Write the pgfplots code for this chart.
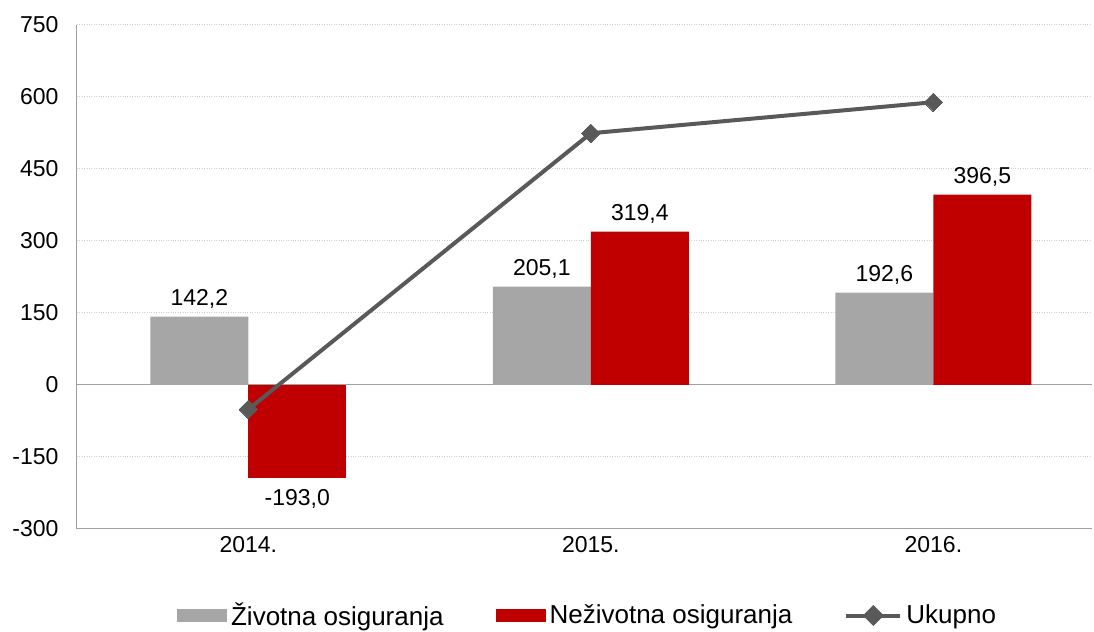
\documentclass[border=0pt]{standalone}
\usepackage{pgfplots}
\pgfplotsset{compat=1.18}
\usepackage{fontspec}
\setmainfont{Liberation Sans}
\definecolor{zgray}{HTML}{A6A6A6}
\definecolor{nred}{HTML}{C00000}
\definecolor{uline}{HTML}{595959}
\definecolor{gridc}{HTML}{D0D0D0}
\definecolor{axc}{HTML}{A0A0A0}
\begin{document}
\begin{tikzpicture}
\begin{axis}[
  at={(0,0)}, anchor=south west,
  scale only axis,
  width=1015pt, height=504pt,
  xmin=-0.5, xmax=2.463,
  ymin=-300, ymax=750,
  ytick={-300,-150,0,150,300,450,600,750},
  xtick={0,1,2},
  xticklabels={2014.,2015.,2016.},
  axis x line*=bottom,
  axis y line*=left,
  axis line style={draw=axc, line width=1pt},
  x axis line style={-}, y axis line style={-},
  major tick length=0pt,
  ymajorgrids,
  grid style={draw=gridc, dotted, line width=1pt},
  extra y ticks={0}, extra y tick labels={},
  extra y tick style={grid style={draw=axc, solid, line width=1pt}},
  tick label style={font=\fontsize{23}{27}\selectfont},
  /pgf/number format/assume math mode=true,
  yticklabel style={xshift=-15pt},
  xticklabel style={yshift=-4pt},
  nodes near coords={\pgfmathprintnumber[fixed, fixed zerofill, precision=1, use comma, assume math mode=true]{\pgfplotspointmeta}},
  every node near coord/.append style={font=\fontsize{23}{27}\selectfont, text=black},
  legend columns=3,
  legend style={at={(0.503,0)}, anchor=center, yshift=-86pt, draw=none, fill=none,
    font=\fontsize{26}{30}\selectfont,
    /tikz/every odd column/.append style={column sep=2pt},
    /tikz/every even column/.append style={column sep=50pt}},
  clip=false,
]
\addplot[ybar, bar width=98pt, bar shift=-49pt, fill=zgray, draw=none,
  every node near coord/.append style={xshift=-49pt, yshift=5pt},
  legend image code/.code={\fill[zgray] (0pt,-7pt) rectangle (50pt,6pt);}]
  coordinates {(0,142.2) (1,205.1) (2,192.6)};
\addlegendentry{Životna osiguranja}
\addplot[ybar, bar width=98pt, bar shift=49pt, fill=nred, draw=none,
  every node near coord/.append style={xshift=49pt, yshift=5pt},
  legend image code/.code={\fill[nred] (0pt,-7pt) rectangle (50pt,6pt);}]
  coordinates {(1,319.4) (2,396.5)};
\addlegendentry{Neživotna osiguranja}
\addplot[ybar, bar width=98pt, bar shift=49pt, fill=nred, draw=none, forget plot,
  every node near coord/.append style={xshift=49pt, yshift=-8pt}]
  coordinates {(0,-193.0)};
\addplot[sharp plot, draw=uline, line width=4pt, mark=square*, mark size=6.5pt,
  mark options={rotate=45, fill=uline, draw=uline, line width=0pt}, nodes near coords={},
  legend image code/.code={\draw[uline, line width=4pt] (0pt,-0.5pt) -- (54pt,-0.5pt);
    \fill[uline, rotate around={45:(27pt,-0.5pt)}] (21.5pt,-6pt) rectangle (32.5pt,5pt);}]
  coordinates {(0,-50.8) (1,524.5) (2,589.1)};
\addlegendentry{Ukupno}
\end{axis}
\useasboundingbox (-77pt,-101pt) rectangle (1017pt,529pt);
\end{tikzpicture}
\end{document}
